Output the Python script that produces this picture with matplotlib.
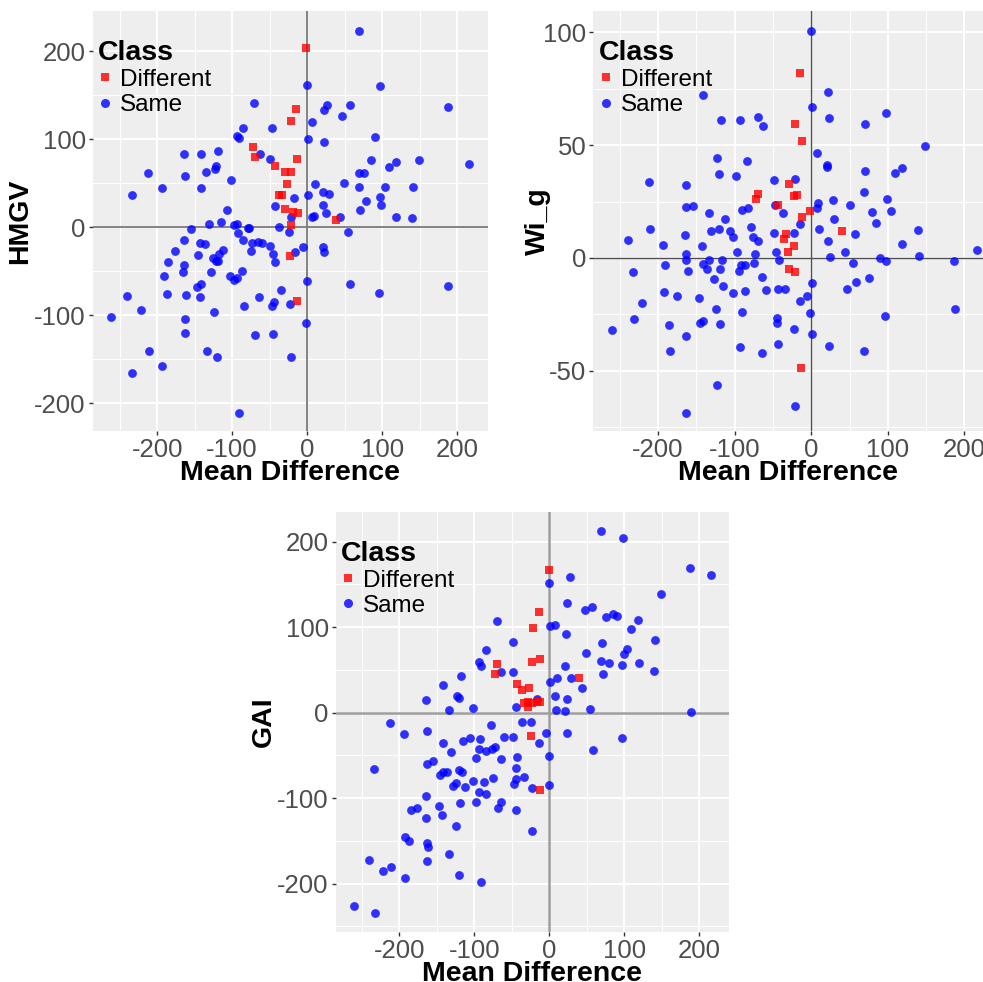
#%% Librerías
import numpy as np
import matplotlib.pyplot as plt
from matplotlib.lines import Line2D
from matplotlib.ticker import FixedLocator, MultipleLocator

plt.rcParams['font.family'] = ['Liberation Sans', 'DejaVu Sans']
plt.rcParams['axes.unicode_minus'] = False

#%% Datos (Mean Difference vs. cada índice)
# Panel 1: HMGV
hmgv_same_x = [-71, -85, -47, -94, -91, -164, -142, -119, -63, -49, -212, -163, -135, -123, -121, -102,
               -234, -194, -142, -107, -43, -22, -17, -131, -115, -94,
               69, 0, 97, 27, 23, 57, 47, 7, 188, 1, 22, 90, 85, 118, 149, 109, 216, 69, 76, 10, 49, 69,
               104, 141, 1, 21, 29, 79, 97, 21, 99, 70, 25, 6, 9, 44, 119, 140,
               -98, -79, -77, -38, -155, -24, -92, -164, -143, -136, -86, -73, -65, -60, -49, -176, -146,
               -112, -117, -125, -122, -119, -75, -45, -43, -16, -185, -164, -165, -128, -87, -191, -103,
               -98, -94, -142, -147, -35, -240, -187, -162, -143, -64, -44, -47, -23, -84, -222, -124,
               -261, -163, -163, -70, -45, -211, -134, -120, -22, -193, -233, -91,
               54, -5, 21, 22, 0, 57, 96, 188, -1]
hmgv_same_y = [141, 113, 113, 104, 101, 83, 83, 87, 83, 77, 62, 58, 63, 66, 70, 53,
               37, 45, 45, 20, 24, 12, 33, 4, 6, 4,
               223, 161, 160, 139, 133, 139, 126, 120, 136, 100, 97, 102, 76, 74, 76, 68, 72, 62, 62, 49, 50, 46,
               46, 46, 36, 40, 38, 30, 34, 25, 25, 20, 16, 12, 13, 12, 12, 10,
               2, -1, -1, 0, -2, -5, -7, -15, -18, -19, -15, -18, -17, -18, -21, -27, -32,
               -26, -30, -35, -38, -38, -27, -30, -39, -28, -40, -43, -51, -51, -50, -56, -56,
               -60, -58, -64, -68, -71, -78, -76, -77, -79, -79, -85, -90, -87, -90, -94, -96,
               -102, -104, -120, -123, -121, -141, -141, -147, -148, -158, -166, -211,
               -5, -22, -22, -28, -61, -64, -75, -67, -109]
hmgv_diff_x = [-72, -70, -43, -29, -22, -27, -34, -37, -30, -19, -21, -15, -2, -13, -12, 39, -21, -23, -14]
hmgv_diff_y = [91, 80, 70, 63, 63, 49, 37, 36, 21, 17, 121, 134, 203, 77, 16, 8, 3, -33, -84]

# Panel 2: Wi_g
wig_same_x = [-141, -118, -93, -70, -63, -123, -84, -120, -98, -49, -212, -163, -163, -154, -134, -112,
              -91, -83, -47, -37,
              0, 22, 1, 23, 70, 98, 149, 8, 21, 21, 70, 109, 118, -21, 69, 99, 9, 7, 28, 50, 79, 104,
              30, -15, 85,
              -211, -239, -165, -194, -131, -120, -106, -102, -78, -76, -69, -49, -142, -97, -73, -46,
              -163, -163, -191, -141, -133, -117, -136, -119, -92, -87, -94, -75, -42, -233, -161,
              -127, -64, -115, -192, -175, -147, -102, -86, -59, -43, -34, -221, -124, -91, -232,
              -186, -145, -141, -119, -45, -45, -260, -163, -184, -93, -64, -43, -123, -163,
              -23, 10, 57, 22, 140, 119, 216, 44, 25, 90, 97, 141, 187, 55, 76, 58, 1, 47, -5, -14,
              -1, 96, 188, -22, 1, 23, 69, -21]
wig_same_y = [72.3, 61.1, 61.2, 62.3, 58.4, 44.2, 43.2, 37.1, 36.5, 34.7, 33.9, 32.2, 22.8, 23.2, 20, 17.4,
              21.1, 22.3, 23.5, 20,
              100.7, 73.4, 67, 62, 59.5, 64.5, 49.7, 46.6, 41.3, 40.2, 38.6, 37.5, 39.8, 35.2, 29.1,
              26.3, 24.4, 22.2, 25.9, 23.3, 20.5, 20.9, 17.1, 15.1, 15.5,
              13, 7.8, 10.3, 5.8, 12, 12.7, 12.1, 9.1, 13.9, 9.5, 7.5, 11.1, 5.5, 2.7, 1.8, 2.7,
              1.8, -1.1, -3.1, -2.8, -0.9, -0.8, -4.7, -4.7, -3.3, -3.3, -5.8, -2.4, -1.1, -6.2, -5.8,
              -9.5, -8.4, -12.2, -15.1, -16.9, -17.6, -15.3, -14.8, -14.2, -13.8, -13.8, -20.1, -22.6,
              -24.1, -27.2, -29.7, -29, -27.8, -29.2, -26.6, -28.7, -32.1, -34.6, -41.1, -39.5, -42.3,
              -38, -56.4, -68.5,
              11.2, 13, 10.5, 7.4, 12.4, 6, 3.6, 2.5, 0.3, -0.2, -1.3, 1, -1.5, -2.4, -8.9, -10.5,
              -11.3, -13.8, -16.7, -19, -24.3, -25.7, -22.4, -31.7, -33.7, -38.8, -41.3, -65.4]
wig_diff_x = [-70, -72, -43, -29, -14, -21, -12, -22, -18, -1, -12, -33, -36, -30, -29, -22, 40, -21, -13]
wig_diff_y = [28.5, 26, 23.3, 32.8, 81.8, 59.6, 51.7, 27.6, 28.1, 21, 18, 10.7, 8.4, 2.7, -4.9, 5.1,
              12.1, -6.2, -48.8]

# Panel 3: GAI
gai_same_x = [-70, -48, -85, -94, -91, -118, -64, -49, -142, -164, -123, -120, -134, -102, -44, -16,
              -213, -78, -37, -24,
              69, 98, 187, 216, 0, 28, 149, 23, 47, 57, 76, 85, 90, 118, 109, 1, 8, 22, 141, 70, 104,
              99, 49, 21, 69, 79, 97, 119, 140, 71, 1, 10, 29, 44, 7, 24, 9, 21, 54, 189,
              -194, -163, -142, -131, -115, -106, -92, -94, -85, -76, -72, -60, -49, -234, -163, -155,
              -98, -65, -43, -146, -142, -136, -121, -117, -45, -44, -34, -128, -125, -112, -102, -87,
              -75, -47, -23, -165, -94, -84, -98, -119, -64, -185, -176, -147, -69, -45, -164, -143,
              -124, -23, -192, -187, -163, -162, -134, -240, -211, -222, -163, -193, -120, -91, -261,
              -233,
              -5, 23, -14, 97, 58, 0, -1]
gai_same_y = [107, 83, 73, 59, 54, 43, 47, 47, 32, 15, 20, 17, 3, 5, 7, 16,
              -12, -15, -11, -11,
              212, 204, 169, 161, 152, 159, 139, 128, 120, 123, 112, 115, 113, 108, 98, 101, 103, 92,
              85, 81, 74, 69, 70, 54, 60, 58, 56, 58, 49, 45, 36, 40, 40, 29, 19, 16, 3, 2, 4, 1,
              -25, -22, -36, -46, -33, -30, -31, -42, -45, -42, -40, -28, -28, -66, -60, -57,
              -53, -54, -52, -73, -70, -70, -67, -69, -65, -78, -75, -86, -82, -87, -80, -81,
              -77, -84, -88, -97, -93, -95, -104, -106, -105, -114, -111, -109, -111, -114, -123, -120,
              -133, -138, -145, -150, -153, -157, -165, -172, -180, -185, -174, -193, -190, -198, -226,
              -234,
              -24, -24, -35, -30, -44, -51, -85]
gai_diff_x = [-70, -72, -43, -27, -36, -22, -23, -34, -29, -28, -23, -16, -12, -1, -14, -12, 40, -24, -13]
gai_diff_y = [57, 45, 33, 29, 26, 99, 59, 11, 12, 7, 11, 12, 12, 167, 118, 63, 41, -27, -90]

#%% Función para cada panel (estilo tipo ggplot)
def scatter_panel(ax, sx, sy, dx, dy, ylab, xlim, ylim, yticks, yminor, zcol, zlw, ylab_x):
    ax.set_facecolor('#EEEEEE')
    for s in ax.spines.values():
        s.set_visible(False)
    ax.set_xlim(xlim)
    ax.set_ylim(ylim)
    ax.xaxis.set_major_locator(FixedLocator([-200, -100, 0, 100, 200]))
    ax.xaxis.set_minor_locator(MultipleLocator(50))
    ax.yaxis.set_major_locator(FixedLocator(yticks))
    ax.yaxis.set_minor_locator(MultipleLocator(yminor))
    ax.grid(which='major', color='white', lw=1.4)
    ax.grid(which='minor', color='white', lw=0.7)
    ax.set_axisbelow(True)
    ax.tick_params(which='major', length=3, width=1, color='#333333',
                   labelsize=18.5, labelcolor='#4D4D4D', pad=2)
    ax.tick_params(which='minor', length=0)

    ax.axhline(0, color=zcol, lw=zlw, zorder=1.5)
    ax.axvline(0, color=zcol, lw=zlw, zorder=1.5)

    ax.scatter(sx, sy, s=40, marker='o', color='blue', alpha=0.8, lw=0, zorder=3)
    ax.scatter(dx, dy, s=34, marker='s', color='red', alpha=0.8, lw=0, zorder=3)

    ax.set_xlabel('Mean Difference', fontsize=20.5, fontweight='bold')
    ax.xaxis.set_label_coords(0.5, -0.07)
    ax.set_ylabel(ylab, fontsize=20.5, fontweight='bold')
    ax.yaxis.set_label_coords(ylab_x, 0.5)

    handles = [Line2D([], [], ls='', marker='s', color='red', alpha=0.8, ms=6, mew=0),
               Line2D([], [], ls='', marker='o', color='blue', alpha=0.8, ms=6.5, mew=0)]
    leg = ax.legend(handles, ['Different', 'Same'], title='Class', loc='upper left',
                    bbox_to_anchor=(-0.03, 0.972), frameon=False, fontsize=17.5,
                    title_fontproperties={'weight': 'bold', 'size': 20.5},
                    handlelength=0.6, handletextpad=0.3, labelspacing=0.13,
                    borderpad=0.2, alignment='left')
    return leg

#%% Figura
fig = plt.figure(figsize=(9.83, 9.82), dpi=100)
ax1 = fig.add_axes([0.0943, 0.5611, 0.4018, 0.4277])
ax2 = fig.add_axes([0.6036, 0.5611, 0.3964, 0.4277])
ax3 = fig.add_axes([0.3415, 0.0511, 0.3998, 0.4277])

scatter_panel(ax1, hmgv_same_x, hmgv_same_y, hmgv_diff_x, hmgv_diff_y, 'HMGV',
              (-286, 240.7), (-231.5, 245.5), [-200, -100, 0, 100, 200], 50,
              '#7a7a7a', 1.3, -0.15)
scatter_panel(ax2, wig_same_x, wig_same_y, wig_diff_x, wig_diff_y, 'Wi_g',
              (-284.5, 224.3), (-76.7, 109.5), [-50, 0, 50, 100], 25,
              '#505050', 1.0, -0.11)
scatter_panel(ax3, gai_same_x, gai_same_y, gai_diff_x, gai_diff_y, 'GAI',
              (-284.8, 239), (-256.4, 234.9), [-200, -100, 0, 100, 200], 50,
              '#9e9e9e', 1.8, -0.15)

fig.savefig('out.png', dpi=100)
